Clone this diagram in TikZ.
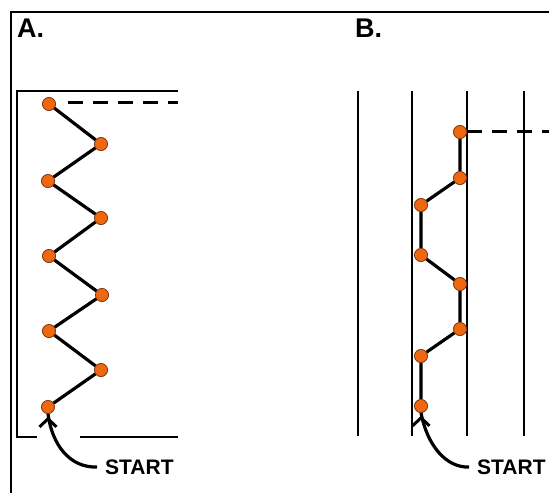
\documentclass[tikz,border=0pt]{standalone}
\usepackage{fontspec}
\setmainfont{Liberation Sans}
\usetikzlibrary{arrows.meta}
\definecolor{dotorange}{RGB}{238,104,18}
\definecolor{dotedge}{RGB}{120,50,10}
\tikzset{
  pt/.style={circle,fill=dotorange,draw=dotedge,line width=0.6pt,minimum size=13pt,inner sep=0pt},
  path/.style={line width=3.2pt,black},
  frame/.style={line width=1.8pt,black},
  lane/.style={line width=1.8pt,black},
  dashline/.style={line width=3pt,dash pattern=on 15pt off 10pt},
  startlbl/.style={font=\fontsize{21}{24}\selectfont\bfseries,inner sep=0pt,anchor=west},
  panlbl/.style={font=\fontsize{27}{30}\selectfont\bfseries,inner sep=0pt,anchor=north west},
  startarrow/.style={line width=3.2pt,-{Straight Barb[length=8pt,width=17pt,line width=3pt]}}
}
\begin{document}
\begin{tikzpicture}[x=1pt,y=-1pt]
\useasboundingbox (0,0) rectangle (549,493);
% outer frame
\draw[frame] (11,493) -- (11,12) -- (549,12);
% labels
\node[panlbl] (la) at (17,19) {A.};
\node[panlbl] (lb) at (355,19) {B.};
% panel A box
\draw[frame] (37,437) -- (17,437) -- (17,91) -- (178,91);
\draw[frame] (80,437) -- (178,437);
% panel A points
\node[pt] (a1) at (49,104) {};
\node[pt] (a2) at (101,144) {};
\node[pt] (a3) at (48,181) {};
\node[pt] (a4) at (101,218) {};
\node[pt] (a5) at (49,256) {};
\node[pt] (a6) at (102,295) {};
\node[pt] (a7) at (49,331) {};
\node[pt] (a8) at (101,370) {};
\node[pt] (a9) at (48,407) {};
\coordinate (ad0) at (68,102);
\coordinate (ad) at (178,102);
\draw[dashline] (ad0) -- (ad);
\draw[path] (a9) -- (a8) -- (a7) -- (a6) -- (a5) -- (a4) -- (a3) -- (a2) -- (a1);
\foreach \n in {a1,a2,a3,a4,a5,a6,a7,a8,a9} \node[pt] at (\n) {};
% start A
\node[startlbl] (sa) at (105,467) {START};
\draw[startarrow] (sa.west) ++(-8,0) .. controls (70,468) and (52,445) .. (a9.south) ++(0,3);
% panel B lanes
\coordinate (l1t) at (358,91); \coordinate (l1b) at (358,436);
\coordinate (l2t) at (412,91); \coordinate (l2b) at (412,436);
\coordinate (l3t) at (467,91); \coordinate (l3b) at (467,436);
\coordinate (l4t) at (524,91); \coordinate (l4b) at (524,436);
\draw[lane] (l1t) -- (l1b);
\draw[lane] (l2t) -- (l2b);
\draw[lane] (l3t) -- (l3b);
\draw[lane] (l4t) -- (l4b);
% panel B points
\node[pt] (b1) at (460,132) {};
\node[pt] (b2) at (460,178) {};
\node[pt] (b3) at (421,205) {};
\node[pt] (b4) at (421,255) {};
\node[pt] (b5) at (460,284) {};
\node[pt] (b6) at (460,329) {};
\node[pt] (b7) at (421,356) {};
\node[pt] (b8) at (421,406) {};
\coordinate (bd0) at (467,131);
\coordinate (bd) at (549,131);
\draw[dashline] (bd0) -- (bd);
\draw[path] (b8) -- (b7) -- (b6) -- (b5) -- (b4) -- (b3) -- (b2) -- (b1);
\foreach \n in {b1,b2,b3,b4,b5,b6,b7,b8} \node[pt] at (\n) {};
% start B
\node[startlbl] (sb) at (477,467) {START};
\draw[startarrow] (sb.west) ++(-8,0) .. controls (446,468) and (427,445) .. (b8.south) ++(0,3);
\end{tikzpicture}
\end{document}
